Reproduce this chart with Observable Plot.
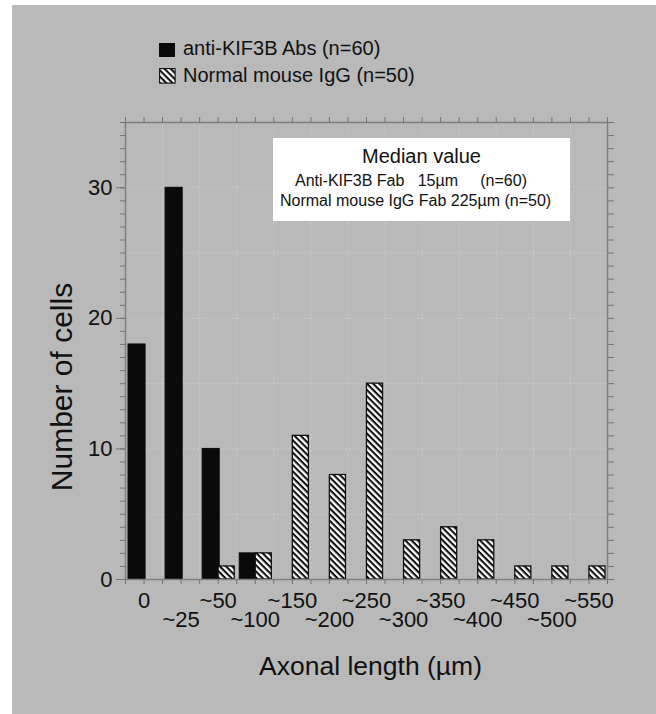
<!DOCTYPE html>
<html>
<head>
<meta charset="utf-8">
<script src="https://cdn.jsdelivr.net/npm/d3@7"></script>
<script src="https://cdn.jsdelivr.net/npm/@observablehq/plot@0.6"></script>
<style>
  html, body { margin: 0; padding: 0; background: #ffffff; width: 656px; height: 714px; overflow: hidden; }
  #bg { position: absolute; left: 12px; top: 5px; right: 0; bottom: 0; background: #b9b9b9; }
  .txt { font-family: "Liberation Sans", Arial, Helvetica, sans-serif; color: #111; position: absolute; white-space: pre; }
  #chart { position: absolute; left: 0; top: 90px; }
  #inset { position: absolute; left: 273px; top: 138px; width: 297px; height: 83px; background: #ffffff; }
  #ytitle { left: 62px; top: 387px; font-size: 30px; line-height: 32px; transform: translate(-50%, -50%) rotate(-90deg); }
</style>
</head>
<body>
<div id="bg"></div>
<!-- legend -->
<div class="txt" style="left:159px;top:43px;width:16px;height:14px;background:#0a0a0a;"></div>
<div class="txt" style="left:183px;top:36px;font-size:20px;line-height:24px;">anti-KIF3B Abs (n=60)</div>
<svg class="txt" style="left:159px;top:68px;" width="17" height="16">
  <defs>
    <pattern id="hatchL" patternUnits="userSpaceOnUse" width="4.4" height="4.4" patternTransform="rotate(45)">
      <rect width="4.4" height="4.4" fill="#ffffff"></rect>
      <rect width="4.4" height="2.1" fill="#111111"></rect>
    </pattern>
  </defs>
  <rect x="0.6" y="0.6" width="15.5" height="14.5" fill="url(#hatchL)" stroke="#111" stroke-width="1.1"></rect>
</svg>
<div class="txt" style="left:183px;top:63px;font-size:20px;line-height:24px;">Normal mouse IgG (n=50)</div>

<div id="chart"></div>
<div class="txt" id="ytitle">Number of cells</div>

<div id="inset">
  <div class="txt" style="left:0;width:297px;top:7px;text-align:center;font-size:20px;line-height:22px;">Median value</div>
  <div class="txt" style="left:22px;top:34px;font-size:16px;line-height:18px;">Anti-KIF3B Fab   15µm     (n=60)</div>
  <div class="txt" style="left:7px;top:54px;font-size:16px;line-height:18px;">Normal mouse IgG Fab 225µm (n=50)</div>
</div>

<script>
// ---- data ----
const categories = ["0", "~25", "~50", "~100", "~150", "~200", "~250", "~300", "~350", "~400", "~450", "~500", "~550"];
const antiKIF3B = [18, 30, 10, 2, 0, 0, 0, 0, 0, 0, 0, 0, 0];
const normalIgG = [0, 0, 1, 2, 11, 8, 15, 3, 4, 3, 1, 1, 1];
const yTickLabels = [0, 10, 20, 30];

const rows = [];
categories.forEach((c, i) => {
  rows.push({i, cat: c, series: "anti", value: antiKIF3B[i]});
  rows.push({i, cat: c, series: "normal", value: normalIgG[i]});
});
const antiRows = rows.filter(d => d.series === "anti" && d.value > 0);
const normalRows = rows.filter(d => d.series === "normal" && d.value > 0);
const catRows = categories.map((c, i) => ({i, cat: c}));

const tickColor = "#737373";
const font = "'Liberation Sans', Arial, Helvetica, sans-serif";

const svg = Plot.plot({
  width: 656,
  height: 624,
  marginTop: 32,
  marginBottom: 135,
  marginLeft: 125,
  marginRight: 49,
  x: {domain: [0, categories.length]},
  y: {domain: [0, 35]},
  style: {background: "transparent", fontFamily: font, overflow: "visible", color: "#111"},
  marks: [
    // faint grid
    Plot.ruleY(d3.range(5, 35, 5), {stroke: "#cdcdcd", strokeDasharray: "1.5,2.5", strokeWidth: 1}),
    Plot.ruleX(d3.range(1, categories.length), {stroke: "#cdcdcd", strokeDasharray: "1.5,2.5", strokeWidth: 1}),
    // bars
    Plot.rectY(antiRows, {x1: "i", x2: d => d.i + 1, y1: 0, y2: "value", insetLeft: 3, insetRight: 17, fill: "#0a0a0a", stroke: "#0a0a0a", strokeWidth: 1}),
    Plot.rectY(normalRows, {x1: "i", x2: d => d.i + 1, y1: 0, y2: "value", insetLeft: 19, insetRight: 2, fill: "url(#hatch)", stroke: "#111", strokeWidth: 1.3}),
    // frame
    Plot.frame({stroke: "#808080", strokeWidth: 1.5}),
    // ticks
    Plot.axisX({anchor: "bottom", ticks: d3.range(0, categories.length + 0.01, 0.5), tickSize: 5, tickFormat: () => "", stroke: tickColor, label: null}),
    Plot.axisX({anchor: "top", ticks: d3.range(0, categories.length + 0.01, 0.5), tickSize: 6, tickFormat: () => "", stroke: tickColor, label: null}),
    Plot.axisY({anchor: "left", ticks: d3.range(0, 36), tickSize: 5, tickFormat: () => "", stroke: tickColor, label: null}),
    Plot.axisY({anchor: "left", ticks: yTickLabels, tickSize: 9, tickFormat: () => "", stroke: tickColor, label: null}),
    Plot.axisY({anchor: "right", ticks: d3.range(0, 36), tickSize: 6, tickFormat: () => "", stroke: tickColor, label: null}),
    Plot.axisY({anchor: "left", ticks: yTickLabels, tickSize: 0, tickPadding: 13, fontSize: 22, fill: "#111", label: null}),
    // x category labels (staggered)
    Plot.text(catRows.filter(d => d.i % 2 === 0), {x: d => d.i + 0.5, text: "cat", frameAnchor: "bottom", dy: 28, fontSize: 22, fill: "#111"}),
    Plot.text(catRows.filter(d => d.i % 2 === 1), {x: d => d.i + 0.5, text: "cat", frameAnchor: "bottom", dy: 47, fontSize: 22, fill: "#111"}),
    // x axis title
    Plot.text(["Axonal length (µm)"], {frameAnchor: "bottom", dy: 95, dx: 4, fontSize: 26.5, fill: "#111"})
  ]
});

d3.select(svg).insert("defs", ":first-child").html(
  `<pattern id="hatch" patternUnits="userSpaceOnUse" width="4.4" height="4.4" patternTransform="rotate(45)">
     <rect width="4.4" height="4.4" fill="#ffffff"></rect>
     <rect width="4.4" height="2.1" fill="#111111"></rect>
   </pattern>`
);

document.getElementById("chart").appendChild(svg);
</script>
</body>
</html>
